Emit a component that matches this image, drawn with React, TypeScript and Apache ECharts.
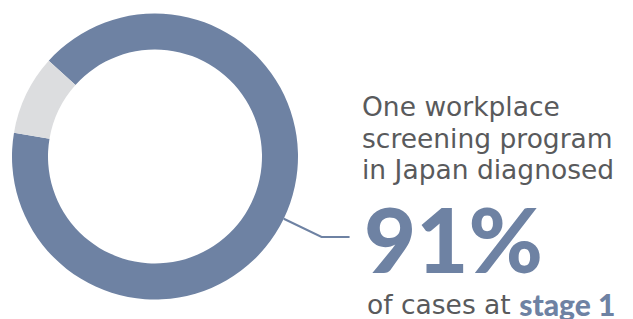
import React, { useEffect, useRef } from "react";
import * as echarts from "echarts";

const categories = ["Stage 1", "Other stages"];
const values = [91, 9];
const colors = ["#6E82A3", "#DCDDDF"];
const headlineLines = ["One workplace", "screening program", "in Japan diagnosed"];
const bigValue = "91%";
const footerPlain = "of cases at ";
const footerBold = "stage 1";

export default function App() {
  const ref = useRef<HTMLDivElement>(null);
  useEffect(() => {
    document.body.style.margin = "0";
    const chart = echarts.init(ref.current!, null, { renderer: "svg" });
    const textFont = "'DejaVu Sans', sans-serif";
    const boldFont = "Lato, 'Open Sans', sans-serif";
    chart.setOption({
      animation: false,
      backgroundColor: "#ffffff",
      series: [
        {
          type: "pie",
          center: [155, 156.5],
          radius: [107, 143],
          startAngle: 138,
          clockwise: true,
          silent: true,
          data: categories.map((c, i) => ({
            name: c,
            value: values[i],
            itemStyle: { color: colors[i] },
            label: { show: i === 0 },
            labelLine: { show: i === 0 },
          })),
          label: {
            show: true,
            position: "outside",
            formatter: " ",
            fontSize: 1,
          },
          labelLine: {
            show: true,
            length: 42,
            length2: 28,
            smooth: false,
            lineStyle: { color: colors[0], width: 2 },
          },
          emphasis: { disabled: true },
        },
      ],
      graphic: [
        ...headlineLines.map((t, i) => ({
          type: "text",
          left: 362,
          top: 93 + i * 31.5,
          style: {
            text: t,
            fill: "#595A5C",
            font: `400 26.5px ${textFont}`,
          },
        })),
        {
          type: "text",
          left: 364,
          top: 193,
          style: {
            text: bigValue,
            fill: colors[0],
            font: `900 90px ${boldFont}`,
            lineHeight: 70,
          },
        },
        {
          type: "text",
          left: 367,
          top: 289,
          style: {
            text: `{a|${footerPlain}}{b|${footerBold}}`,
            rich: {
              a: { fill: "#595A5C", font: `400 26.5px ${textFont}`, lineHeight: 30 },
              b: { fill: colors[0], font: `900 30px ${boldFont}`, lineHeight: 30 },
            },
          },
        },
      ],
    });
    return () => chart.dispose();
  }, []);
  return (
    <div
      ref={ref}
      style={{ position: "fixed", left: 0, top: 0, width: 633, height: 319 }}
    />
  );
}
